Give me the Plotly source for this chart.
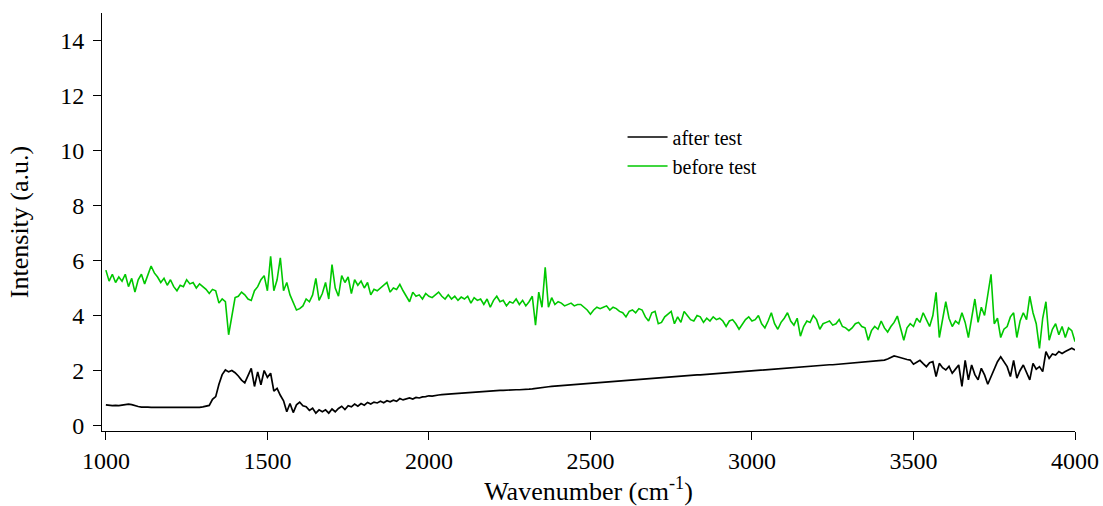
import numpy as np
import plotly.graph_objects as go

# wavenumber grid (cm^-1), 10 cm^-1 sampling
wavenumber = list(range(1000, 4001, 10))

before_test = [
    5.65, 5.25, 5.5, 5.2, 5.4, 5.25, 5.5, 5.05, 5.35, 4.85,
    5.3, 5.5, 5.15, 5.45, 5.8, 5.55, 5.4, 5.2, 5.35, 5.1,
    5.3, 5.05, 4.9, 5.1, 5.05, 5.3, 5.15, 5.2, 5.0, 5.15,
    5.05, 4.95, 4.8, 4.95, 4.9, 4.45, 4.6, 4.5, 3.3, 4.0,
    4.65, 4.7, 4.85, 4.75, 4.6, 4.55, 4.9, 5.05, 5.3, 5.45,
    4.9, 6.15, 4.9, 5.3, 6.1, 4.9, 5.2, 4.75, 4.5, 4.2,
    4.25, 4.35, 4.6, 4.5, 4.75, 5.35, 4.55, 4.8, 5.2, 4.6,
    5.85, 5.0, 4.7, 5.45, 5.2, 5.4, 4.8, 5.3, 5.1, 5.25,
    5.0, 5.2, 4.75, 4.95, 4.9, 5.0, 5.1, 5.2, 4.85, 5.0,
    4.95, 5.13, 4.9, 4.7, 4.5, 4.85, 4.7, 4.75, 4.6, 4.8,
    4.7, 4.65, 4.75, 4.85, 4.7, 4.6, 4.75, 4.6, 4.7, 4.55,
    4.67, 4.6, 4.7, 4.45, 4.65, 4.55, 4.6, 4.4, 4.6, 4.3,
    4.55, 4.7, 4.5, 4.55, 4.35, 4.5, 4.45, 4.6, 4.4, 4.55,
    4.35, 4.5, 4.7, 3.65, 4.85, 4.3, 5.75, 4.3, 4.65, 4.4,
    4.5, 4.45, 4.35, 4.4, 4.45, 4.35, 4.4, 4.4, 4.3, 4.2,
    4.05, 4.2, 4.3, 4.25, 4.3, 4.35, 4.2, 4.3, 4.25, 4.15,
    4.1, 3.95, 4.15, 4.2, 4.1, 4.25, 4.2, 3.95, 3.8, 4.1,
    4.15, 3.7, 3.75, 3.95, 4.05, 4.15, 3.7, 3.95, 3.75, 4.15,
    4.0, 3.85, 3.8, 4.0, 3.95, 3.75, 3.9, 3.8, 3.95, 3.85,
    3.9, 3.8, 3.6, 3.8, 3.85, 3.7, 3.5, 3.7, 3.85, 3.95,
    3.8, 3.85, 4.0, 3.7, 3.55, 3.8, 4.1, 3.7, 3.5, 3.75,
    3.9, 4.1, 3.8, 3.65, 3.9, 3.25, 3.6, 3.8, 3.75, 4.0,
    3.85, 3.5, 3.7, 3.75, 3.8, 3.65, 3.7, 3.85, 3.6, 3.55,
    3.45, 3.55, 3.7, 3.75, 3.6, 3.55, 3.1, 3.45, 3.6, 3.5,
    3.8, 3.55, 3.4, 3.6, 3.75, 3.98, 3.5, 3.1, 3.55, 3.7,
    3.6, 3.9, 3.75, 4.1, 3.85, 3.6, 4.0, 4.84, 3.2, 3.9,
    4.5, 3.9, 3.6, 3.8, 3.7, 4.1, 3.75, 3.2, 3.9, 4.6,
    3.75, 4.3, 4.0, 4.75, 5.5, 3.7, 3.9, 3.2, 3.5, 3.6,
    3.95, 4.1, 3.2, 3.8, 4.1, 3.85, 4.7, 4.1, 3.7, 2.8,
    3.9, 4.5, 3.1, 3.5, 3.7, 3.3, 3.6, 3.2, 3.55, 3.45,
    3.05,
]

after_test = [
    0.75, 0.73, 0.72, 0.73, 0.72, 0.74, 0.77, 0.78, 0.76, 0.72,
    0.69, 0.67, 0.68, 0.67, 0.66, 0.66, 0.65, 0.66, 0.65, 0.65,
    0.65, 0.65, 0.64, 0.65, 0.65, 0.65, 0.65, 0.65, 0.66, 0.66,
    0.68, 0.71, 0.73, 0.95, 1.05, 1.5, 1.85, 2.02, 1.95, 2.0,
    1.92, 1.8, 1.65, 1.55, 1.85, 2.08, 1.42, 1.95, 1.48, 2.0,
    1.75, 1.9, 1.25, 1.35, 1.1, 0.9, 0.5, 0.8, 0.47, 0.75,
    0.85, 0.72, 0.68, 0.55, 0.63, 0.45, 0.57, 0.5, 0.57, 0.45,
    0.6, 0.5, 0.62, 0.7, 0.58, 0.72, 0.68, 0.78, 0.7, 0.8,
    0.74, 0.84, 0.78, 0.85, 0.82, 0.88, 0.83, 0.9, 0.86, 0.92,
    0.88, 0.98, 0.93, 0.97, 1.0, 0.96, 1.02, 1.0, 1.04, 1.05,
    1.08, 1.07, 1.1, 1.11, 1.12, 1.12, 1.14, 1.15, 1.16, 1.17,
    1.18, 1.19, 1.2, 1.21, 1.22, 1.23, 1.24, 1.25, 1.26, 1.26,
    1.27, 1.27, 1.28, 1.28, 1.29, 1.29, 1.29, 1.3, 1.3, 1.3,
    1.31, 1.32, 1.33, 1.35, 1.37, 1.38, 1.4, 1.41, 1.42, 1.43,
    1.44, 1.45, 1.46, 1.47, 1.48, 1.49, 1.5, 1.51, 1.52, 1.53,
    1.54, 1.55, 1.56, 1.57, 1.58, 1.59, 1.6, 1.6, 1.61, 1.62,
    1.63, 1.64, 1.65, 1.66, 1.67, 1.68, 1.69, 1.7, 1.71, 1.72,
    1.73, 1.74, 1.75, 1.76, 1.77, 1.78, 1.79, 1.8, 1.8, 1.81,
    1.82, 1.82, 1.83, 1.84, 1.84, 1.85, 1.86, 1.86, 1.87, 1.88,
    1.88, 1.89, 1.9, 1.91, 1.92, 1.93, 1.94, 1.95, 1.96, 1.97,
    1.98, 1.99, 2.0, 2.01, 2.02, 2.03, 2.04, 2.05, 2.06, 2.07,
    2.08, 2.09, 2.1, 2.11, 2.12, 2.13, 2.14, 2.15, 2.15, 2.16,
    2.17, 2.18, 2.19, 2.2, 2.21, 2.21, 2.22, 2.23, 2.24, 2.25,
    2.25, 2.26, 2.27, 2.28, 2.29, 2.3, 2.31, 2.32, 2.33, 2.34,
    2.35, 2.38, 2.42, 2.48, 2.53, 2.5, 2.46, 2.44, 2.4, 2.38,
    2.23, 2.3, 2.37, 2.25, 2.14, 2.28, 2.32, 1.78, 2.26, 2.1,
    2.02, 2.15, 1.9, 2.05, 2.2, 1.42, 2.37, 1.66, 2.2, 1.85,
    1.66, 2.08, 1.84, 1.5, 1.78, 2.1, 2.32, 2.5, 2.3, 2.14,
    1.78, 2.37, 1.72, 2.0, 2.2, 1.9, 1.66, 2.26, 2.05, 2.14,
    1.96, 2.69, 2.44, 2.6, 2.56, 2.69, 2.62, 2.69, 2.75, 2.81,
    2.75,
]

x_ticks = [1000, 1500, 2000, 2500, 3000, 3500, 4000]
y_ticks = [0, 2, 4, 6, 8, 10, 12, 14]

FONT = "Liberation Serif, Times New Roman, serif"

fig = go.Figure()
fig.add_trace(go.Scatter(x=wavenumber, y=after_test, mode="lines", name="after test",
                         line=dict(color="#000000", width=1.7)))
fig.add_trace(go.Scatter(x=wavenumber, y=before_test, mode="lines", name="before test",
                         line=dict(color="#00c800", width=1.6)))

fig.update_layout(
    width=1103, height=506,
    margin=dict(l=102, r=28, t=13, b=75),
    paper_bgcolor="white", plot_bgcolor="white",
    font=dict(family=FONT, size=24, color="black"),
    showlegend=True,
    legend=dict(x=0.535, y=0.75, xanchor="left", yanchor="top",
                bgcolor="rgba(0,0,0,0)", font=dict(family=FONT, size=20),
                tracegroupgap=0, itemwidth=40),
    xaxis=dict(range=[988, 4000], tickvals=x_ticks, ticks="outside", ticklen=8,
               tickwidth=1, tickcolor="black", showline=True, linecolor="black",
               linewidth=1, showgrid=False, zeroline=False, automargin=False,
               title=dict(text="Wavenumber (cm<sup>-1</sup>)", standoff=4,
                          font=dict(family=FONT, size=26)),
               tickfont=dict(size=24)),
    yaxis=dict(range=[-0.2, 15], tickvals=y_ticks, ticks="outside", ticklen=8,
               tickwidth=1, tickcolor="black", showline=True, linecolor="black",
               linewidth=1, showgrid=False, zeroline=False, automargin=False,
               ticklabelstandoff=4,
               title=dict(text="Intensity (a.u.)", standoff=24,
                          font=dict(family=FONT, size=26)),
               tickfont=dict(size=24)),
)

fig.write_html("out.html")
